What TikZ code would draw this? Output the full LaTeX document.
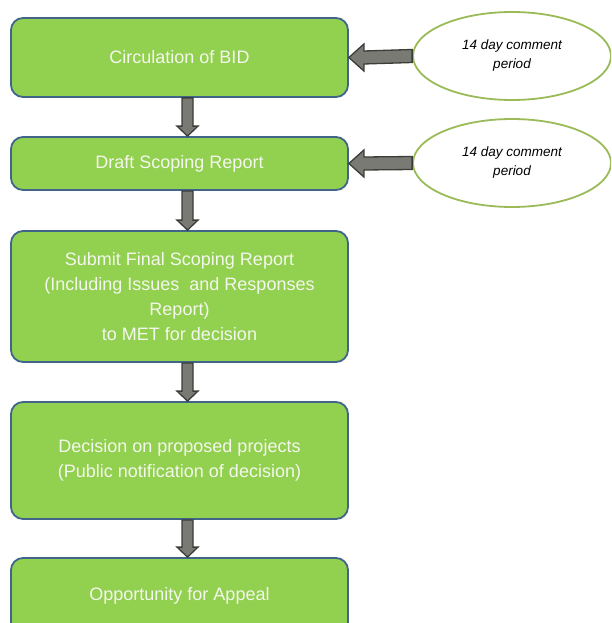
\documentclass[tikz,border=0pt]{standalone}
\usepackage{fontspec}
\setmainfont{Liberation Sans}
\usetikzlibrary{shapes.geometric,calc}
\definecolor{boxgreen}{HTML}{92D050}
\definecolor{boxline}{HTML}{41648A}
\definecolor{arrfill}{HTML}{7A7A74}
\definecolor{arrline}{HTML}{3C3C38}
\definecolor{ellline}{HTML}{9BBB59}
\definecolor{boxtext}{HTML}{F4F7EC}
\tikzset{
  stepbox/.style={draw=boxline, line width=1.8pt, fill=boxgreen, rounded corners=12pt,
    minimum width=337pt, inner sep=0pt, align=center, text=boxtext,
    font=\fontsize{18}{25}\selectfont},
  commentell/.style={draw=ellline, line width=1.8pt, fill=white, ellipse,
    minimum width=198pt, minimum height=88pt, inner sep=0pt, align=center,
    font=\fontsize{13.5}{19}\selectfont\itshape},
  blockarrow/.style={fill=arrfill, draw=arrline, line width=1.3pt, line join=miter}
}
\newcommand\downarrowblk[2]{%
  \draw[blockarrow] ($(#1.south)+(2.5,0)$) -- ($(#2.north)+(2.5,-10)$) -- ($(#2.north)+(-2.5,-10)$)
    -- ($(#2.north)+(8,0)$) -- ($(#2.north)+(18.5,-10)$) -- ($(#2.north)+(13.5,-10)$) -- ($(#1.south)+(13.5,0)$) -- cycle;}
\newcommand\leftarrowblk[2]{%
  \draw[blockarrow] ($(#1.west)+(0,-6.5)$) -- ($(#2.east)+(15,-6.5)$) -- ($(#2.east)+(15,-13.5)$)
    -- (#2.east) -- ($(#2.east)+(15,13.5)$) -- ($(#2.east)+(15,6.5)$) -- ($(#1.west)+(0,6.5)$) -- cycle;}
\begin{document}
\begin{tikzpicture}[x=1pt,y=-1pt]
\useasboundingbox (0,0) rectangle (611,623);
\clip (0,0) rectangle (611,623);
\node[stepbox, minimum height=79pt] (b1) at (179.5,57.5) {Circulation of BID};
\node[stepbox, minimum height=53pt] (b2) at (179.5,163.5) {Draft Scoping Report};
\node[stepbox, minimum height=131pt] (b3) at (179.5,296.5) {Submit Final Scoping Report\\(Including Issues\ \ and Responses\\Report)\\to MET for decision};
\node[stepbox, minimum height=117pt] (b4) at (179.5,460.5) {Decision on proposed projects\\(Public notification of decision)};
\node[stepbox, minimum height=76pt] (b5) at (179.5,596) {Opportunity for Appeal};
\node[commentell] (e1) at (512,56) {14 day comment\\period};
\node[commentell] (e2) at (512,163) {14 day comment\\period};
\downarrowblk{b1}{b2}
\downarrowblk{b2}{b3}
\downarrowblk{b3}{b4}
\downarrowblk{b4}{b5}
\leftarrowblk{e1}{b1}
\leftarrowblk{e2}{b2}
\end{tikzpicture}
\end{document}
